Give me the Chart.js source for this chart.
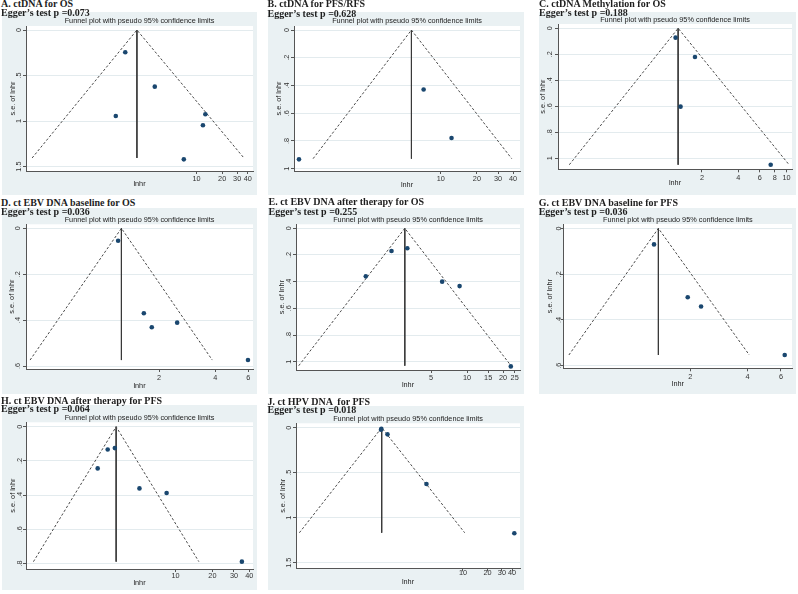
<!DOCTYPE html>
<html>
<head>
<meta charset="utf-8">
<script src="https://cdn.jsdelivr.net/npm/chart.js@4.4.1/dist/chart.umd.min.js"></script>
<style>
  body { margin: 0; background: #fff; width: 798px; height: 594px; position: relative; overflow: hidden; }
  .box { position: absolute; background: #eaf1f3; }
  .box canvas { display: block; }
  .head { position: absolute; font: bold 10px/10px "Liberation Serif", "Times New Roman", serif; color: #1e1e1e; white-space: pre; }
</style>
</head>
<body>
<script>
// study estimates: hazard ratio and its standard error (s.e. of lnhr)
const hrA = [1.46, 3.24, 1.13, 12.7, 11.9, 7.1];
const seA = [0.245, 0.622, 0.944, 0.925, 1.046, 1.42];
const funnelA = [0.118, 2.0, 36];      // lower limit at base, pooled HR, upper limit at base
const baseSeA = 1.405;

const hrB = [0.66, 7.2, 12.3];
const seB = [0.933, 0.429, 0.779];
const funnelB = [0.865, 5.7, 39];
const baseSeB = 0.928;

const hrC = [1.21, 1.75, 1.33, 7.4];
const seC = [0.072, 0.221, 0.603, 1.05];
const funnelC = [0.16, 1.27, 10.5];
const baseSeC = 1.05;

const hrD = [1.21, 1.66, 1.83, 2.50, 5.97];
const seD = [0.054, 0.370, 0.431, 0.411, 0.574];
const funnelD = [0.41, 1.26, 3.85];
const baseSeD = 0.574;

const hrE = [1.42, 2.33, 3.16, 6.18, 8.65, 23.2];
const seE = [0.360, 0.170, 0.150, 0.400, 0.433, 1.035];
const funnelE = [0.39, 3.01, 23.3];
const baseSeE = 1.03;

const hrG = [1.29, 1.94, 2.28, 6.28];
const seG = [0.070, 0.301, 0.341, 0.553];
const funnelG = [0.46, 1.36, 4.09];
const baseSeG = 0.553;

const hrH = [2.31, 2.79, 3.19, 5.07, 8.45, 34.8];
const seH = [0.244, 0.133, 0.125, 0.361, 0.388, 0.790];
const funnelH = [0.69, 3.27, 15.5];
const baseSeH = 0.79;

const hrJ = [1.0, 0.99, 1.19, 3.57, 42.6];
const seJ = [0.012, 0.022, 0.074, 0.626, 1.173];
const funnelJ = [0.099, 1.01, 10.5];
const baseSeJ = 1.167;

// axis ticks
const xTicks40 = [10, 20, 30, 40];
const xTicksC = [2, 4, 6, 8, 10];
const xTicks6 = [2, 4, 6];
const xTicksE = [5, 10, 15, 20, 25];
const yTicksHalf = [0, 0.5, 1, 1.5];
const yLabelsHalf = ['0', '.5', '1', '1.5'];
const yTicks1 = [0, 0.2, 0.4, 0.6, 0.8, 1];
const yLabels1 = ['0', '.2', '.4', '.6', '.8', '1'];
const yTicks06 = [0, 0.2, 0.4, 0.6];
const yLabels06 = ['0', '.2', '.4', '.6'];
const yTicks08 = [0, 0.2, 0.4, 0.6, 0.8];
const yLabels08 = ['0', '.2', '.4', '.6', '.8'];

const headings = [
  ['A. ctDNA for OS', 'Egger\u2019s test p =0.073'],
  ['B. ctDNA for PFS/RFS', 'Egger\u2019s test p =0.628'],
  ['C. ctDNA Methylation for OS', 'Egger\u2019s test p =0.188'],
  ['D. ct EBV DNA baseline for OS', 'Egger\u2019s test p =0.036'],
  ['E. ct EBV DNA after therapy for OS', 'Egger\u2019s test p =0.255'],
  ['G. ct EBV DNA baseline for PFS', 'Egger\u2019s test p =0.036'],
  ['H. ct EBV DNA after therapy for PFS', 'Egger\u2019s test p =0.064'],
  ['J. ct HPV DNA  for PFS', 'Egger\u2019s test p =0.018']
];

const NAVY = '#1a476f';
const AXIS = '#555';
const FS = 7.3;

const panels = [
  { hr: hrA, se: seA, funnel: funnelA, baseSe: baseSeA, xTicks: xTicks40, yTicks: yTicksHalf, yLabels: yLabelsHalf,
    xRange: [0.1, 46], yRange: [-0.044, 1.548],
    box: [2, 12, 255, 183], plot: [26, 26, 251, 171], titY: 21, yLabX: 19.3, yTitX: 13.3, xLab: 8, xTit: 13, head: [1, -1, 8.3] },
  { hr: hrB, se: seB, funnel: funnelB, baseSe: baseSeB, xTicks: xTicks40, yTicks: yTicks1, yLabels: yLabels1,
    xRange: [0.617, 45.7], yRange: [-0.029, 1.017],
    box: [268, 12, 256, 183], plot: [294, 26, 520, 171], titY: 20.7, yLabX: 286.7, yTitX: 279.3, xLab: 8.3, xTit: 13.6, head: [267.5, -1, 9] },
  { hr: hrC, se: seC, funnel: funnelC, baseSe: baseSeC, xTicks: xTicksC, yTicks: yTicks1, yLabels: yLabels1,
    xRange: [0.129, 11.1], yRange: [-0.033, 1.085],
    box: [539, 12, 257, 183], plot: [558, 24, 790, 169.3], titY: 20, yLabX: 550.3, yTitX: 543, xLab: 8.4, xTit: 14, head: [539, -1, 8.3] },
  { hr: hrD, se: seD, funnel: funnelD, baseSe: baseSeD, xTicks: xTicks6, yTicks: yTicks06, yLabels: yLabels06,
    xRange: [0.39, 6.35], yRange: [-0.0174, 0.613],
    box: [2, 208, 255, 186], plot: [26, 224.3, 251, 369], titY: 220, yLabX: 18.3, yTitX: 11.7, xLab: 9.3, xTit: 17, head: [1, 197.6, 207.3] },
  { hr: hrE, se: seE, funnel: funnelE, baseSe: baseSeE, xTicks: xTicksE, yTicks: yTicks1, yLabels: yLabels1,
    xRange: [0.37, 27.7], yRange: [-0.030, 1.062],
    box: [268, 208, 256, 186], plot: [296, 224.3, 521, 370], titY: 220, yLabX: 288.7, yTitX: 282, xLab: 7.7, xTit: 15, head: [268.5, 197.3, 206.6] },
  { hr: hrG, se: seG, funnel: funnelG, baseSe: baseSeG, xTicks: xTicks6, yTicks: yTicks06, yLabels: yLabels06,
    xRange: [0.432, 6.86], yRange: [-0.019, 0.611],
    box: [539, 208, 257, 186], plot: [563.7, 224, 792, 368.3], titY: 220, yLabX: 558.7, yTitX: 550.3, xLab: 8.7, xTit: 15.7, head: [538.7, 198.3, 206.6] },
  { hr: hrH, se: seH, funnel: funnelH, baseSe: baseSeH, xTicks: xTicks40, yTicks: yTicks08, yLabels: yLabels08,
    xRange: [0.634, 42.9], yRange: [-0.026, 0.833],
    box: [2, 405, 255, 185], plot: [26, 422.3, 251, 569], titY: 418.3, yLabX: 20, yTitX: 13.3, xLab: 6.7, xTit: 13.7, head: [1, 396.3, 404] },
  { hr: hrJ, se: seJ, funnel: funnelJ, baseSe: baseSeJ, xTicks: xTicks40, yTicks: yTicksHalf, yLabels: yLabelsHalf,
    xRange: [0.090, 50], yRange: [-0.049, 1.562],
    box: [268, 406, 256, 184], plot: [296, 423.3, 521, 568.3], titY: 419, yLabX: 289.3, yTitX: 282.7, xLab: 4.4, xTit: 14, head: [267.5, 397.3, 405] }
];

const plotBg = {
  id: 'plotBg',
  beforeDraw(chart) {
    const a = chart.chartArea;
    chart.ctx.save();
    chart.ctx.fillStyle = '#fff';
    chart.ctx.fillRect(a.left, a.top, a.right - a.left, a.bottom - a.top);
    chart.ctx.restore();
  }
};

function makePanel(p, head) {
  const [bx, by, bw, bh] = p.box;
  const [pl, pt, , pb] = p.plot;
  const div = document.createElement('div');
  div.className = 'box';
  div.style.left = bx + 'px';
  div.style.top = by + 'px';
  div.style.width = bw + 'px';
  div.style.height = bh + 'px';
  const cv = document.createElement('canvas');
  cv.width = bw;
  cv.height = bh;
  div.appendChild(cv);
  document.body.appendChild(div);

  const yW = pl - bx;
  const xH = by + bh - pb;
  const font = { family: '"Liberation Sans", Arial, sans-serif', size: FS, lineHeight: 1 };

  // stata style vertical tick labels on the y axis
  const yLabelPlugin = {
    id: 'yLabels',
    afterDraw(chart) {
      const ctx = chart.ctx;
      const ys = chart.scales.y;
      ctx.save();
      ctx.fillStyle = '#333';
      ctx.font = FS + 'px "Liberation Sans", Arial, sans-serif';
      ctx.textAlign = 'center';
      ctx.textBaseline = 'middle';
      p.yTicks.forEach((v, i) => {
        ctx.save();
        ctx.translate(p.yLabX - bx, ys.getPixelForValue(v));
        ctx.rotate(-Math.PI / 2);
        ctx.fillText(p.yLabels[i], 0, 0);
        ctx.restore();
      });
      ctx.restore();
    }
  };

  new Chart(cv, {
    type: 'scatter',
    data: {
      datasets: [
        {
          data: p.hr.map((x, i) => ({ x: x, y: p.se[i] })),
          pointRadius: 2.3,
          pointBackgroundColor: NAVY,
          pointBorderWidth: 0,
          showLine: false
        },
        {
          data: [{ x: p.funnel[0], y: p.baseSe }, { x: p.funnel[1], y: 0 }, { x: p.funnel[2], y: p.baseSe }],
          showLine: true,
          borderColor: '#4a4a4a',
          borderWidth: 1,
          borderDash: [2.5, 2],
          pointRadius: 0
        },
        {
          data: [{ x: p.funnel[1], y: 0 }, { x: p.funnel[1], y: p.baseSe }],
          showLine: true,
          borderColor: '#3a3a3a',
          borderWidth: 1,
          pointRadius: 0
        }
      ]
    },
    options: {
      responsive: false,
      animation: false,
      devicePixelRatio: 1,
      layout: { padding: 0 },
      plugins: {
        legend: { display: false },
        tooltip: { enabled: false },
        title: {
          display: true,
          text: 'Funnel plot with pseudo 95% confidence limits',
          fullSize: false,
          color: '#222',
          font: { family: '"Liberation Sans", Arial, sans-serif', size: FS, lineHeight: 1, weight: 'normal' },
          padding: { top: p.titY - by - FS / 2, bottom: pt - p.titY - FS / 2 }
        }
      },
      scales: {
        x: {
          type: 'logarithmic',
          min: p.xRange[0],
          max: p.xRange[1],
          afterBuildTicks: s => { s.ticks = p.xTicks.map(v => ({ value: v })); },
          afterFit: s => { s.height = xH; },
          ticks: {
            font: font,
            color: '#333',
            autoSkip: false,
            maxRotation: 0,
            padding: p.xLab - 3 - FS / 2,
            callback: v => (p.xTicks.includes(v) ? String(v) : '')
          },
          grid: { drawOnChartArea: false, tickLength: 3, color: AXIS },
          border: { color: AXIS },
          title: { display: true, text: 'lnhr', font: font, color: '#222', padding: { top: 0, bottom: xH - p.xTit - FS / 2 } }
        },
        y: {
          reverse: true,
          min: p.yRange[0],
          max: p.yRange[1],
          afterBuildTicks: s => { s.ticks = p.yTicks.map(v => ({ value: v })); },
          afterFit: s => { s.width = yW; },
          ticks: { display: false },
          grid: { color: '#e3ebee', tickColor: AXIS, tickLength: 3 },
          border: { color: AXIS },
          title: { display: true, text: 's.e. of lnhr', font: font, color: '#222', padding: { top: p.yTitX - bx - FS / 2, bottom: 0 } }
        }
      }
    },
    plugins: [plotBg, yLabelPlugin]
  });

  // panel heading above the graph box
  const [hx, t1, t2] = p.head;
  [[head[0], t1], [head[1], t2]].forEach(([txt, top]) => {
    const h = document.createElement('div');
    h.className = 'head';
    h.style.left = hx + 'px';
    h.style.top = top + 'px';
    h.textContent = txt;
    document.body.appendChild(h);
  });
}

panels.forEach((p, i) => makePanel(p, headings[i]));
</script>
</body>
</html>
